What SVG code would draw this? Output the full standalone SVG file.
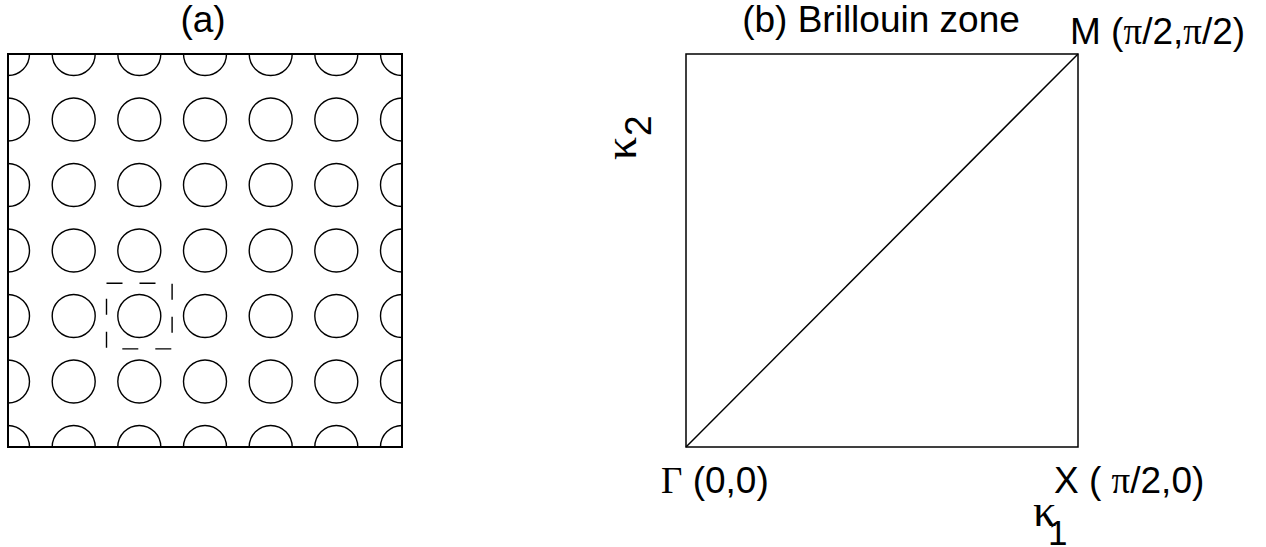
<svg xmlns="http://www.w3.org/2000/svg" width="1266" height="547" viewBox="0 0 1266 547">
<style>
.t{font-family:"Liberation Sans",Arial,sans-serif;font-size:37px;fill:#000}
.s{font-family:"Liberation Serif","Times New Roman",serif}
.k{font-family:"Liberation Serif","Times New Roman",serif;font-size:46px}
.c{fill:none;stroke:#000;stroke-width:1.4}
.frame{fill:none;stroke:#000;stroke-width:2}
.thin{fill:none;stroke:#000;stroke-width:1.5}
</style>
<defs>
<clipPath id="clipA"><rect x="8" y="54" width="394" height="393"/></clipPath>
<circle id="hole" r="21.5" class="c"/>
</defs>
<rect width="1266" height="547" fill="#fff"/>
<g id="panel-a">
<text class="t" x="203" y="32" text-anchor="middle">(a)</text>
<g clip-path="url(#clipA)">
<g id="row0">
<use href="#hole" x="8" y="54"/><use href="#hole" x="73.7" y="54"/><use href="#hole" x="139.3" y="54"/><use href="#hole" x="205" y="54"/><use href="#hole" x="270.7" y="54"/><use href="#hole" x="336.3" y="54"/><use href="#hole" x="402" y="54"/>
</g>
<use href="#row0" y="65.5"/>
<use href="#row0" y="131"/>
<use href="#row0" y="196.5"/>
<use href="#row0" y="262"/>
<use href="#row0" y="327.5"/>
<use href="#row0" y="393"/>
</g>
<rect class="frame" x="8" y="54" width="394" height="393"/>
<rect x="106.5" y="283.3" width="65.6" height="65.6" fill="none" stroke="#000" stroke-width="1.4" stroke-dasharray="16,17"/>
</g>
<g id="panel-b">
<text class="t" x="881" y="32" text-anchor="middle">(b) Brillouin zone</text>
<rect class="thin" x="686" y="54" width="392" height="393"/>
<text class="t" x="1070" y="44">M (<tspan class="s">π</tspan>/2,<tspan class="s">π</tspan>/2)</text>
<text class="t" x="661" y="493"><tspan class="s">Γ</tspan> (0,0)</text>
<text class="t" x="1054" y="493">X ( <tspan class="s">π</tspan>/2,0)</text>
<text class="t" x="1033" y="526"><tspan class="k">κ</tspan><tspan x="1048" y="545" font-size="35">1</tspan></text>
<g transform="translate(636,160) rotate(-90)">
<text class="t" x="0" y="0"><tspan class="k">κ</tspan><tspan x="24" y="15">2</tspan></text>
</g>
</g>
<g id="connectors">
<line class="thin" x1="686" y1="447" x2="1078" y2="54"/>
</g>
</svg>
